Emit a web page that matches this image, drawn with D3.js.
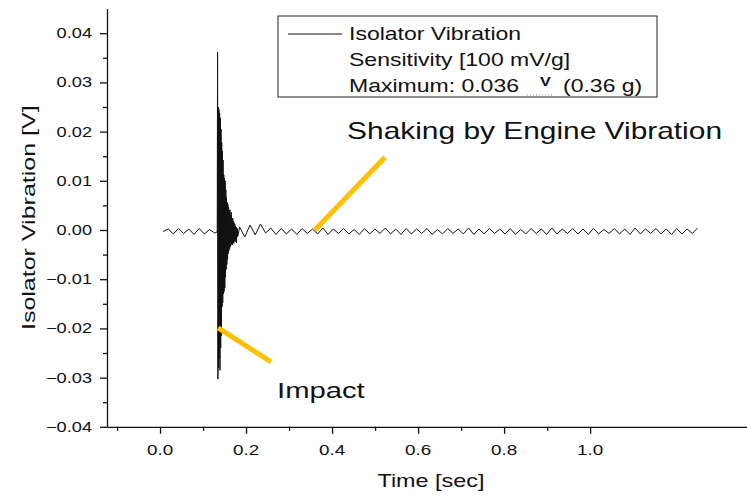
<!DOCTYPE html>
<html>
<head>
<meta charset="utf-8">
<script src="https://cdn.jsdelivr.net/npm/d3@7"></script>
<style>
  body { margin: 0; background: #fff; }
  svg { display: block; font-family: "Liberation Sans", Arial, sans-serif; }
</style>
</head>
<body>
<svg id="chart" width="747" height="498"></svg>
<script>
// signal samples (seconds, volts)
var beforeStart = 0.007, beforeStep = 0.012;
var beforeValues = [-0.0003, 0.0002, -0.0008, 0.0003, -0.0007, 0.0002, -0.0009, 0.0003, -0.0008, 0.0001, -0.0006];

var burstStart = 0.133, burstStep = 0.0008;
var burstValues = [
  -0.0004, 0.0362, -0.0303, 0.0250, -0.0280, 0.0245, -0.0262, 0.0238, -0.0285, 0.0228,
  -0.0240, 0.0205, -0.0215, 0.0178, -0.0156, 0.0160, -0.0148, 0.0142, -0.0130, 0.0112,
  -0.0125, 0.0105, -0.0118, 0.0100, -0.0096, 0.0082, -0.0080, 0.0066, -0.0070, 0.0056,
  -0.0060, 0.0052, -0.0048, 0.0046, -0.0042, 0.0040, -0.0038, 0.0041, -0.0034, 0.0030,
  -0.0031, 0.0036, -0.0028, 0.0022, -0.0030, 0.0024, -0.0026, 0.0018, -0.0027, 0.0015,
  -0.0022, 0.0012, -0.0024, 0.0008, -0.0018, 0.0006, -0.0026, 0.0004, -0.0014, 0.0002,
  -0.0012
];

var afterStart = 0.185, afterStep = 0.0121;
var afterValues = [
  0.0006, -0.0014, 0.0010, -0.0010, 0.0012, -0.0006, 0.0004, -0.0009, 0.0003, -0.0008,
  0.0002, -0.0009, 0.0003, -0.0007, 0.0002, -0.0008, 0.0004, -0.0009, 0.0002, -0.0007,
  0.0003, -0.0008, 0.0001, -0.0009, 0.0003, -0.0008, 0.0002, -0.0007, 0.0004, -0.0008,
  0.0002, -0.0009, 0.0003, -0.0008, 0.0002, -0.0007, 0.0003, -0.0009, 0.0001, -0.0008,
  0.0003, -0.0007, 0.0002, -0.0008, 0.0004, -0.0009, 0.0002, -0.0008, 0.0003, -0.0007,
  0.0002, -0.0008, 0.0003, -0.0009, 0.0001, -0.0008, 0.0003, -0.0007, 0.0002, -0.0009,
  0.0004, -0.0008, 0.0002, -0.0007, 0.0003, -0.0008, 0.0002, -0.0009, 0.0003, -0.0008,
  0.0001, -0.0007, 0.0003, -0.0008, 0.0002, -0.0009, 0.0004, -0.0008, 0.0002, -0.0007,
  0.0003, -0.0008, 0.0002, -0.0009, 0.0003, -0.0008, 0.0002, -0.0007, 0.0004
];

var xMajor = [0.0, 0.2, 0.4, 0.6, 0.8, 1.0];
var xMinor = [-0.1, 0.1, 0.3, 0.5, 0.7, 0.9];
var yMajor = [-0.04, -0.03, -0.02, -0.01, 0.00, 0.01, 0.02, 0.03, 0.04];
var yMinor = [-0.035, -0.025, -0.015, -0.005, 0.005, 0.015, 0.025, 0.035];

var legendLines = ['Isolator Vibration', 'Sensitivity [100 mV/g]'];

// annotations: [t, v] of pointer start and end, text anchor
var shakePointer = [[0.360, 0.0], [0.523, 0.0148]];
var impactPointer = [[0.135, -0.0199], [0.258, -0.0268]];
var shakeLabel = {t: 0.435, v: 0.0185, text: 'Shaking by Engine Vibration'};
var impactLabel = {t: 0.272, v: -0.0341, text: 'Impact'};

var SX = 1.3; // text in the original is drawn wide
var svg = d3.select('#chart');

var x = d3.scaleLinear().domain([-0.1233, 1.388]).range([107, 757]);
var y = d3.scaleLinear().domain([-0.04, 0.045]).range([426.8, 8.6]);

function wide(parent, str, px, py, size, anchor, rot, sx) {
  return parent.append('text')
    .attr('transform', 'translate(' + px + ',' + py + ')' + (rot ? ' rotate(' + rot + ')' : '') + ' scale(' + (sx || SX) + ',1)')
    .attr('text-anchor', anchor || 'start')
    .attr('font-size', size)
    .attr('fill', '#111')
    .text(str);
}

// build the trace
var pts = [];
beforeValues.forEach(function (v, i) { pts.push([beforeStart + i * beforeStep, v]); });
burstValues.forEach(function (v, i) { pts.push([burstStart + i * burstStep, v]); });
afterValues.forEach(function (v, i) { pts.push([afterStart + i * afterStep, v]); });

svg.append('path')
  .datum(pts)
  .attr('fill', 'none')
  .attr('stroke', '#111')
  .attr('stroke-width', 1)
  .attr('d', d3.line().x(function (d) { return x(d[0]); }).y(function (d) { return y(d[1]); }));

// axes
var x0 = x.range()[0];
svg.append('g').attr('transform', 'translate(' + x0 + ',0)')
  .call(d3.axisLeft(y).tickValues(yMajor).tickSize(7).tickSizeOuter(0).tickFormat(''));
svg.append('g').attr('transform', 'translate(' + x0 + ',0)')
  .call(d3.axisLeft(y).tickValues(yMinor).tickSize(4).tickSizeOuter(0).tickFormat(''))
  .select('.domain').remove();

svg.append('g').attr('transform', 'translate(0,' + y(-0.04) + ')')
  .call(d3.axisBottom(x).tickValues(xMajor).tickSize(7).tickSizeOuter(0).tickFormat(''));
svg.append('g').attr('transform', 'translate(0,' + y(-0.04) + ')')
  .call(d3.axisBottom(x).tickValues(xMinor).tickSize(4).tickSizeOuter(0).tickFormat(''))
  .select('.domain').remove();

svg.selectAll('.domain, .tick line').attr('stroke', '#111').attr('stroke-width', 1.3);

var fy = d3.format('.2f'), fx = d3.format('.1f');
yMajor.forEach(function (v) { wide(svg, fy(v), 92, y(v) + 5, 14, 'end'); });
xMajor.forEach(function (t) { wide(svg, fx(t), x(t), 455, 14.5, 'middle'); });

wide(svg, 'Time [sec]', 431, 487, 18, 'middle');
wide(svg, 'Isolator Vibration [V]', 35, y(0.0025), 17.5, 'middle', -90, 1.43);

// annotation pointers
[shakePointer, impactPointer].forEach(function (p) {
  svg.append('line')
    .attr('x1', x(p[0][0])).attr('y1', y(p[0][1]))
    .attr('x2', x(p[1][0])).attr('y2', y(p[1][1]))
    .attr('stroke', '#FFC000').attr('stroke-width', 5);
});
wide(svg, shakeLabel.text, x(shakeLabel.t), y(shakeLabel.v), 23, 'start');
wide(svg, impactLabel.text, x(impactLabel.t), y(impactLabel.v), 22.5, 'start');

// legend
var lg = svg.append('g');
lg.append('rect').attr('x', 278).attr('y', 16).attr('width', 379).attr('height', 81)
  .attr('fill', '#fff').attr('stroke', '#222').attr('stroke-width', 1);
lg.append('line').attr('x1', 288).attr('x2', 342).attr('y1', 34).attr('y2', 34)
  .attr('stroke', '#111').attr('stroke-width', 1);
legendLines.forEach(function (s, i) { wide(lg, s, 349, 40 + i * 26, 17.7); });
wide(lg, 'Maximum: 0.036', 349, 92, 17.7);
wide(lg, 'V', 540, 86, 12.5).attr('font-weight', 'bold');
lg.append('line').attr('x1', 527).attr('x2', 552).attr('y1', 95).attr('y2', 95)
  .attr('stroke', '#999').attr('stroke-width', 1).attr('stroke-dasharray', '1,2');
wide(lg, '(0.36 g)', 563, 92, 17.7);
</script>
</body>
</html>
